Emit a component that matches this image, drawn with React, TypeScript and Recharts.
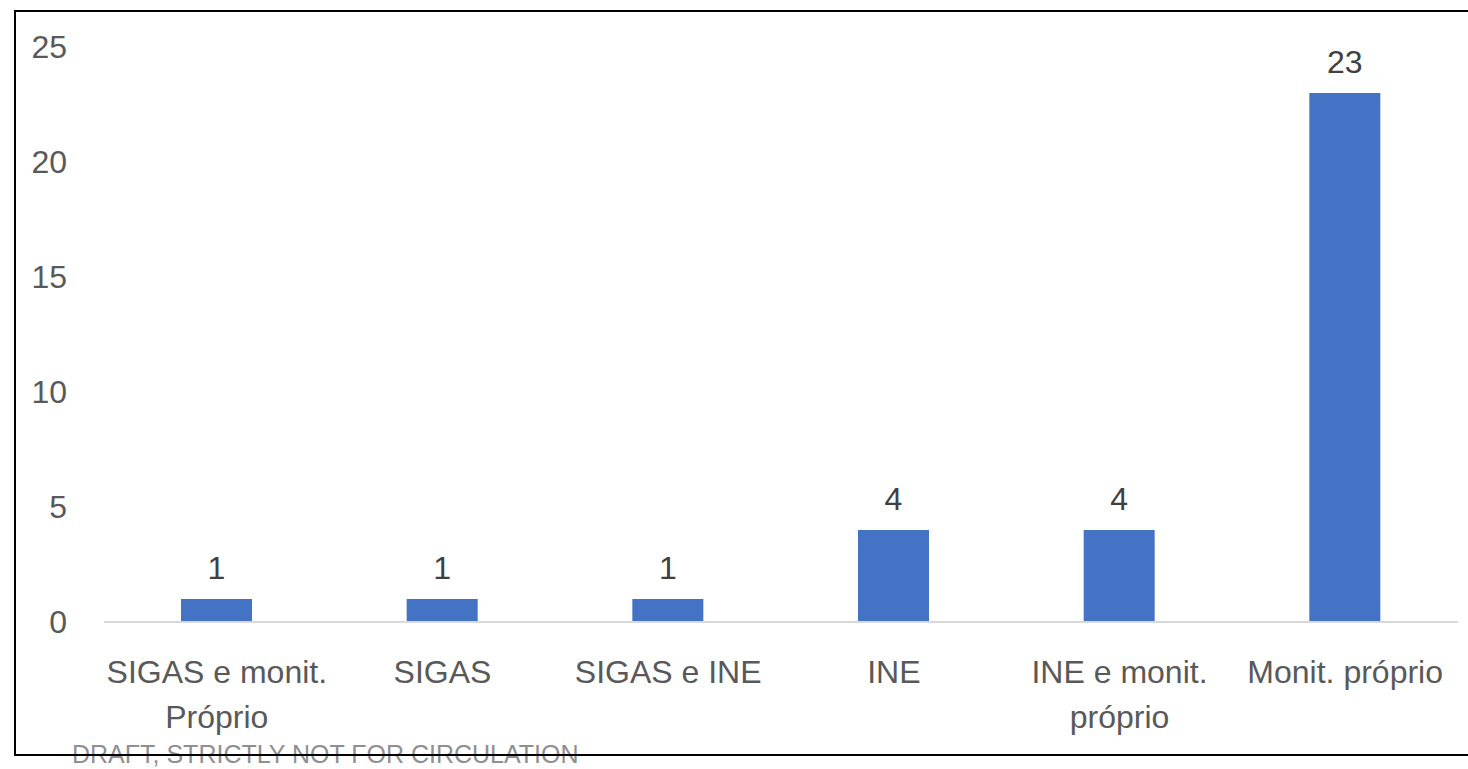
import React from "react";
import { BarChart, Bar, XAxis, YAxis, LabelList } from "recharts";

const categories = [
  "SIGAS e monit.\nPróprio",
  "SIGAS",
  "SIGAS e INE",
  "INE",
  "INE e monit.\npróprio",
  "Monit. próprio",
];
const values = [1, 1, 1, 4, 4, 23];
const yTicks = [0, 5, 10, 15, 20, 25];

const data = categories.map((name, i) => ({ name, value: values[i] }));

const FONT = "'Liberation Sans', Arial, sans-serif";

function CategoryTick({ x, y, payload }: { x: number; y: number; payload: { value: string } }) {
  const lines = String(payload.value).split("\n");
  return (
    <text x={x} y={y} textAnchor="middle" fill="#595959" style={{ fontFamily: FONT, fontSize: 32 }}>
      {lines.map((line, i) => (
        <tspan key={i} x={x} y={y + 61 + i * 45}>
          {line}
        </tspan>
      ))}
    </text>
  );
}

export default function App() {
  return (
    <div style={{ position: "absolute", left: 0, top: 0, width: 1468, height: 769, background: "#fff", overflow: "hidden" }}>
      <div style={{ position: "absolute", left: 0, top: 0 }}>
        <BarChart width={1468} height={769} data={data} margin={{ top: 47, right: 10, left: 0, bottom: 117 }}>
          <XAxis
            dataKey="name"
            interval={0}
            height={30}
            tickLine={false}
            tickSize={0}
            tickMargin={0}
            axisLine={{ stroke: "#d9d9d9", strokeWidth: 2 }}
            tick={CategoryTick as any}
          />
          <YAxis
            width={104}
            domain={[0, 25]}
            ticks={yTicks}
            axisLine={false}
            tickLine={false}
            tickSize={0}
            tickMargin={37}
            tick={{ fill: "#595959", fontSize: 32, fontFamily: FONT }}
          />
          <Bar dataKey="value" fill="#4472c4" barSize={71} isAnimationActive={false}>
            <LabelList
              dataKey="value"
              position="top"
              offset={20}
              style={{ fill: "#404040", fontSize: 32, fontFamily: FONT }}
            />
          </Bar>
        </BarChart>
      </div>
      <div
        style={{
          position: "absolute",
          left: 72,
          top: 742,
          fontFamily: FONT,
          fontSize: 25,
          color: "#8f8f8f",
          whiteSpace: "nowrap",
          lineHeight: "25px",
        }}
      >
        DRAFT, STRICTLY NOT FOR CIRCULATION
      </div>
      {/* frame, drawn over the watermark */}
      <div
        style={{
          position: "absolute",
          left: 14,
          top: 10,
          width: 1470,
          height: 746,
          border: "2px solid #000",
          boxSizing: "border-box",
        }}
      />
    </div>
  );
}
